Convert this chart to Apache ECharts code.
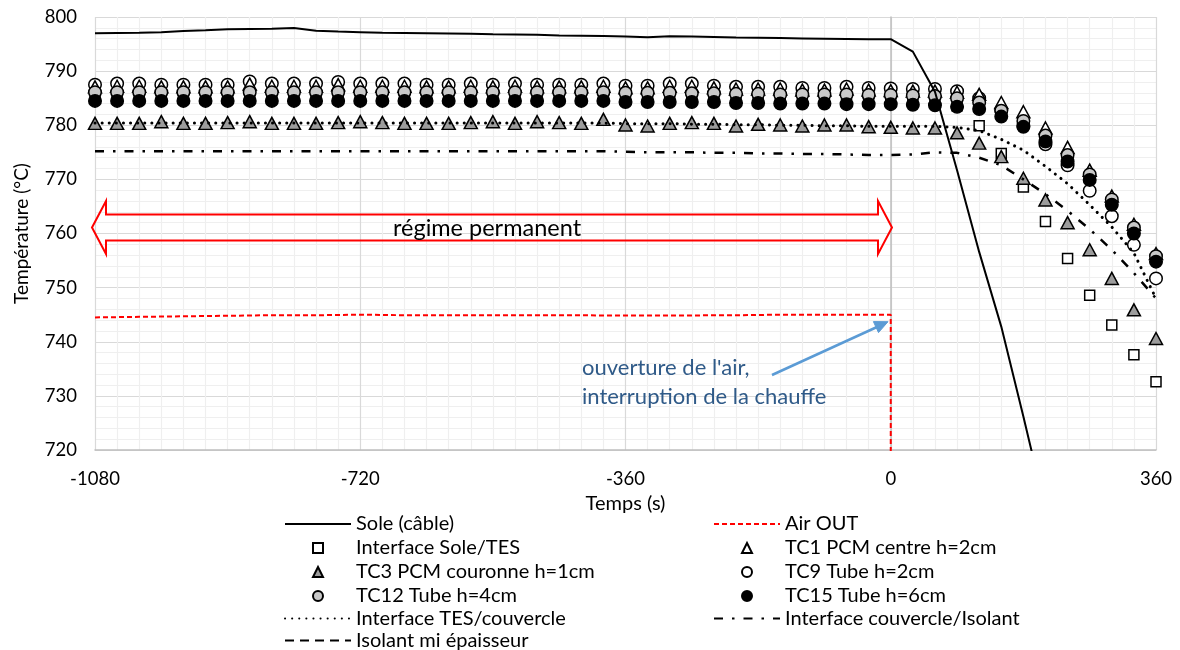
<!DOCTYPE html>
<html><head><meta charset="utf-8">
<script src="https://cdn.jsdelivr.net/npm/echarts@6/dist/echarts.min.js"></script>
<style>html,body{margin:0;padding:0;background:#fff}#c{width:1180px;height:650px}</style>
</head><body><div id="c"></div>
<script>
// ---------- DATA ----------
const times = [-1080,-1050,-1020,-990,-960,-930,-900,-870,-840,-810,-780,-750,-720,-690,-660,-630,-600,-570,-540,-510,-480,-450,-420,-390,-360,-330,-300,-270,-240,-210,-180,-150,-120,-90,-60,-30,0,30,60,90,120,150,180,210,240,270,300,330,360];
const xTicks = [-1080,-720,-360,0,360];
const yTicks = [720,730,740,750,760,770,780,790,800];

const sole = [797.0,797.05,797.1,797.2,797.4,797.55,797.75,797.8,797.85,797.95,797.45,797.3,797.2,797.1,797.05,797.0,796.95,796.9,796.8,796.75,796.7,796.6,796.55,796.5,796.4,796.25,796.45,796.4,796.3,796.2,796.15,796.1,796.05,796.0,795.95,795.9,795.9,793.6,786.2,771.7,756.6,742.8,726.2,709.0,null,null,null,null,null];
const airOutTimes = [-1080,-1050,-1020,-990,-960,-930,-900,-870,-840,-810,-780,-750,-720,-690,-660,-630,-600,-570,-540,-510,-480,-450,-420,-390,-360,-330,-300,-270,-240,-210,-180,-150,-120,-90,-60,-30,0,0];
const airOut = [744.5,744.55,744.6,744.65,744.7,744.75,744.8,744.85,744.9,744.9,744.9,744.95,745.0,744.95,744.9,744.9,744.9,744.9,744.9,744.9,744.9,744.9,744.9,744.85,744.85,744.85,744.85,744.85,744.9,744.9,744.95,745.0,745.0,745.0,745.0,745.0,745.0,700.0];
const soleTes = [785.0,785.0,785.0,785.0,785.0,785.0,785.0,785.0,785.0,785.0,785.0,785.0,785.0,785.0,785.0,785.0,785.0,785.0,785.0,785.0,785.0,785.0,785.0,785.0,785.0,785.0,785.0,785.0,785.0,785.0,785.0,785.0,785.0,785.0,785.0,785.0,785.0,785.0,784.8,783.6,779.9,774.8,768.6,762.2,755.4,748.6,743.1,737.6,732.6];
const tc1 = [787.1,787.2,787.2,787.1,787.1,787.1,787.1,787.6,787.2,787.2,787.2,787.5,787.2,787.2,787.2,787.1,787.1,787.2,787.1,787.2,787.1,787.1,787.1,787.2,786.9,786.9,787.2,787.2,786.9,786.7,786.7,786.7,786.5,786.5,786.7,786.5,786.4,786.3,786.3,786.1,785.7,784.2,782.5,779.5,775.9,771.7,766.9,761.7,756.3];
const tc3 = [780.35,780.35,780.35,780.66,780.35,780.35,780.48,780.66,780.35,780.35,780.35,780.48,780.66,780.48,780.35,780.35,780.35,780.48,780.66,780.35,780.66,780.48,780.35,781.09,780.05,779.86,780.35,780.48,780.35,779.86,780.17,780.05,779.86,780.05,780.05,779.74,779.62,779.5,779.5,778.6,776.7,774.2,770.2,766.2,762.0,757.0,751.7,745.9,740.6];
const tc9 = [787.5,787.7,787.7,787.5,787.5,787.5,787.5,788.1,787.7,787.7,787.7,788.0,787.7,787.7,787.7,787.5,787.5,787.7,787.5,787.7,787.5,787.5,787.5,787.7,787.3,787.3,787.7,787.7,787.3,787.1,787.1,787.1,786.9,786.9,787.1,786.9,786.8,786.7,786.7,786.3,785.0,782.8,779.9,776.5,772.6,767.9,763.2,757.9,751.7];
const tc12 = [786.1,786.1,786.1,786.1,786.1,786.1,786.1,786.1,786.1,786.1,786.1,786.1,786.1,786.1,786.1,786.1,786.1,786.1,786.1,786.1,786.1,786.1,786.1,786.1,786.0,786.0,786.0,785.9,785.9,785.8,785.8,785.7,785.7,785.7,785.7,785.6,785.6,785.5,785.4,785.0,784.2,782.7,780.8,778.1,774.5,770.9,766.3,761.1,755.8];
const tc15 = [784.5,784.5,784.5,784.5,784.5,784.5,784.5,784.5,784.5,784.5,784.5,784.5,784.5,784.5,784.5,784.5,784.5,784.5,784.5,784.5,784.5,784.5,784.5,784.5,784.3,784.3,784.3,784.3,784.3,784.1,784.1,784.0,784.0,784.0,783.9,783.9,783.9,783.8,783.7,783.4,783.0,781.6,779.7,777.0,773.3,769.9,765.3,760.0,754.8];
const tesCouvercle = [780.4,780.4,780.4,780.4,780.4,780.4,780.4,780.4,780.4,780.4,780.4,780.4,780.4,780.4,780.4,780.4,780.4,780.4,780.4,780.4,780.4,780.4,780.4,780.4,780.3,780.3,780.3,780.2,780.2,780.1,780.1,780.0,780.0,779.9,779.9,779.8,779.8,779.8,779.8,779.6,779.0,777.4,775.4,772.4,769.2,765.3,761.2,756.4,748.0];
const couvercleIsolant = [775.2,775.2,775.2,775.2,775.2,775.2,775.2,775.2,775.2,775.2,775.2,775.2,775.2,775.2,775.2,775.2,775.2,775.2,775.2,775.2,775.2,775.2,775.2,775.2,775.1,775.0,775.0,775.0,774.9,774.9,774.8,774.8,774.7,774.7,774.6,774.5,774.5,774.6,775.0,774.9,774.0,772.6,770.0,767.3,764.2,760.8,757.0,752.7,748.0];
const isolantMi = [];

const names = {
  sole:'Sole (câble)', air:'Air OUT', soleTes:'Interface Sole/TES', tc1:'TC1 PCM centre h=2cm',
  tc3:'TC3 PCM couronne h=1cm', tc9:'TC9 Tube h=2cm', tc12:'TC12 Tube h=4cm', tc15:'TC15 Tube h=6cm',
  tes:'Interface TES/couvercle', couv:'Interface couvercle/Isolant', iso:'Isolant mi épaisseur'
};

// ---------- CHART ----------
const FONT = 'Lato, "Open Sans", sans-serif';
const pairs = (xs, ys) => xs.map((t, i) => [t, ys[i]]);
const chart = echarts.init(document.getElementById('c'));

function scatter(name, vals, symbol, size, fill) {
  return { name, type:'scatter', data: pairs(times, vals), symbol, symbolSize: size, clip:false,
    itemStyle:{ color: fill, borderColor:'#000', borderWidth:1.5, opacity:1 } };
}
function line(name, xs, vals, color, width, type) {
  return { name, type:'line', data: pairs(xs, vals), symbol:'none', showSymbol:false, clip:true,
    connectNulls:false, lineStyle:{ color, width, type, cap: Array.isArray(type) && type[0] < 1 ? 'round' : 'butt' },
    itemStyle:{ color } };
}

const LFS = 20;
const rowCenters = [522, 546, 570, 594, 616.5, 638.5];
function legendItem(name, isLine, col, row) {
  const top = rowCenters[row] - 13;
  const base = col === 0 ? 279 : 708;
  return isLine
    ? { orient:'vertical', left:base, top, itemWidth:66, itemHeight:10, selectedMode:false,
        itemStyle:{ color:'rgba(0,0,0,0)', borderColor:'rgba(0,0,0,0)', borderWidth:0 },
        textStyle:{ fontFamily:FONT, fontSize:LFS, color:'#000' }, data:[name] }
    : { orient:'vertical', left:base + 28, top, itemWidth:10, itemHeight:10, selectedMode:false,
        symbolKeepAspect:true,
        textStyle:{ fontFamily:FONT, fontSize:LFS, color:'#000', padding:[0,0,0,28] }, data:[name] };
}

chart.setOption({
  animation:false,
  backgroundColor:'#fff',
  textStyle:{ fontFamily:FONT },
  grid:{ left:95, right:24, top:17, bottom:200, containLabel:false, outerBoundsMode:'none' },
  xAxis:{ type:'value', min:xTicks[0], max:xTicks[xTicks.length-1], interval:360,
    name:'Temps (s)', nameLocation:'middle', nameGap:36,
    nameTextStyle:{ fontFamily:FONT, fontSize:20, color:'#000' },
    axisLine:{ show:true, onZero:false, lineStyle:{ color:'#bfbfbf', width:1.5 } },
    axisTick:{ show:false },
    axisLabel:{ fontFamily:FONT, fontSize:18.5, color:'#000', margin:20, formatter: v => String(v) },
    splitLine:{ show:true, lineStyle:{ color:'#d9d9d9', width:1.2 } },
    minorTick:{ show:false, splitNumber:12 },
    minorSplitLine:{ show:true, lineStyle:{ color:'#efefef', width:1.2 } } },
  yAxis:{ type:'value', min:yTicks[0], max:yTicks[yTicks.length-1], interval:10,
    name:'Température (°C)', nameLocation:'middle', nameGap:64, nameRotate:90,
    nameTextStyle:{ fontFamily:FONT, fontSize:19, color:'#000' },
    axisLine:{ show:true, lineStyle:{ color:'#bfbfbf', width:1.5 } },
    axisTick:{ show:false },
    axisLabel:{ fontFamily:FONT, fontSize:18.5, color:'#000', margin:18, formatter: v => String(v) },
    splitLine:{ show:true, lineStyle:{ color:'#d9d9d9', width:1.2 } },
    minorTick:{ show:false, splitNumber:5 },
    minorSplitLine:{ show:true, lineStyle:{ color:'#efefef', width:1.2 } } },
  legend:[
    legendItem(names.sole, true, 0, 0),
    legendItem(names.soleTes, false, 0, 1),
    legendItem(names.tc3, false, 0, 2),
    legendItem(names.tc12, false, 0, 3),
    legendItem(names.tes, true, 0, 4),
    legendItem(names.iso, true, 0, 5),
    legendItem(names.air, true, 1, 0),
    legendItem(names.tc1, false, 1, 1),
    legendItem(names.tc9, false, 1, 2),
    legendItem(names.tc15, false, 1, 3),
    legendItem(names.couv, true, 1, 4)
  ],
  series:[
    scatter(names.soleTes, soleTes, 'rect', 10, '#ffffff'),
    scatter(names.tc9, tc9, 'circle', 12.5, '#ffffff'),
    scatter(names.tc1, tc1, 'triangle', [13,12], '#ffffff'),
    scatter(names.tc12, tc12, 'circle', 12.5, '#c8c8c8'),
    scatter(names.tc15, tc15, 'circle', 12.5, '#000000'),
    scatter(names.tc3, tc3, 'triangle', [13,12], '#9c9c9c'),
    line(names.tes, times, tesCouvercle, '#000', 3, [0.1, 7]),
    line(names.couv, times, couvercleIsolant, '#000', 2.5, [9, 9, 2.5, 9]),
    line(names.iso, times, isolantMi, '#000', 2.5, [9, 6]),
    line(names.air, airOutTimes, airOut, '#ff0000', 2, [5, 3]),
    line(names.sole, times, sole, '#000', 2, 'solid')
  ],
  graphic:[
    { type:'polygon', silent:true, z:50,
      shape:{ points:[[92,227.5],[106,201],[106,214.5],[878,214.5],[878,201],[892,227.5],[878,254],[878,240.5],[106,240.5],[106,254]] },
      style:{ fill:'rgba(0,0,0,0)', stroke:'#ff0000', lineWidth:2 } },
    { type:'text', silent:true, z:51, x:487, y:228,
      style:{ text:'régime permanent', fill:'#000', font:'23.5px ' + FONT, align:'center', verticalAlign:'middle' } },
    { type:'line', silent:true, z:50, shape:{ x1:772, y1:375, x2:877, y2:327 },
      style:{ stroke:'#5b9bd5', lineWidth:2.5 } },
    { type:'polygon', silent:true, z:50, shape:{ points:[[888,321.7],[878.5,332.6],[873.4,321.6]] },
      style:{ fill:'#5b9bd5', stroke:'#5b9bd5', lineWidth:1 } },
    { type:'text', silent:true, z:51, x:582, y:368,
      style:{ text:"ouverture de l'air,", fill:'#2f5a88', font:'22px ' + FONT, align:'left', verticalAlign:'middle' } },
    { type:'text', silent:true, z:51, x:582, y:397,
      style:{ text:'interruption de la chauffe', fill:'#2f5a88', font:'22px ' + FONT, align:'left', verticalAlign:'middle' } }
  ]
});
</script></body></html>
